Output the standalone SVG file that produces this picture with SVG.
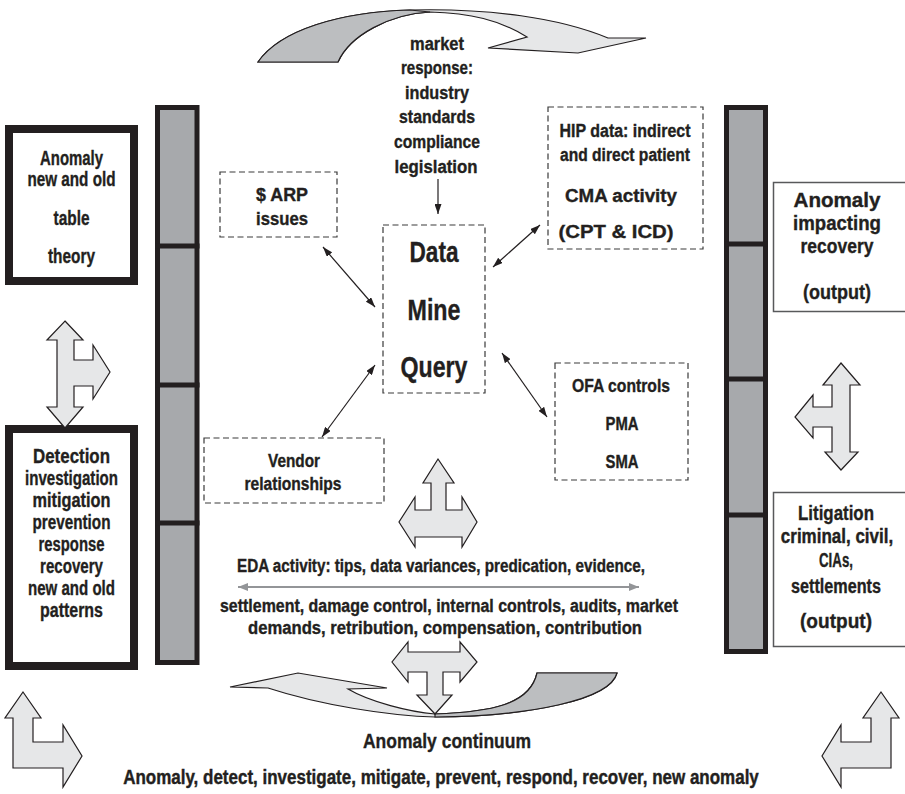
<svg xmlns="http://www.w3.org/2000/svg" width="905" height="794" viewBox="0 0 905 794">
  <defs>
    <style>
      text { font-family: "Liberation Sans", Arial, sans-serif; font-weight: bold; fill: #231f20; stroke: #231f20; stroke-width: 0.35; text-anchor: middle; }
      .t20 { font-size: 20px; }
      .t18 { font-size: 18px; }
      .t17 { font-size: 17px; }
      .t30 { font-size: 30px; }
      .t21 { font-size: 21px; }
      .dash { fill: #fff; stroke: #3a3a3a; stroke-width: 1.2; stroke-dasharray: 6 3.5; }
      .thick { fill: #fff; stroke: #231f20; stroke-width: 8; }
      .thin { fill: #fff; stroke: #58595b; stroke-width: 1.5; }
      .bar { fill: #a7a9ac; stroke: #231f20; stroke-width: 5; }
      .div { stroke: #231f20; stroke-width: 5; }
      .blk { fill: #e6e7e8; stroke: #231f20; stroke-width: 1.2; stroke-linejoin: miter; }
      .dark { fill: #bcbec0; stroke: #231f20; stroke-width: 1.2; }
      .link { stroke: #231f20; stroke-width: 1.2; fill: none; }
      .glink { stroke: #939598; stroke-width: 2; fill: none; }
    </style>
    <marker id="ah" viewBox="0 0 10 7" refX="10" refY="3.5" markerWidth="10" markerHeight="7" markerUnits="userSpaceOnUse" orient="auto-start-reverse">
      <path d="M0,0 L10,3.5 L0,7 Z" fill="#231f20"/>
    </marker>
    <marker id="gh" viewBox="0 0 10 8" refX="10" refY="4" markerWidth="10" markerHeight="8" markerUnits="userSpaceOnUse" orient="auto-start-reverse">
      <path d="M0,0 L10,4 L0,8 Z" fill="#939598"/>
    </marker>
  </defs>

  <!-- curved ribbon arrow at the top -->
  <g id="market-loop">
    <path class="blk" d="M258,62 C280,30 340,12 410,10 C490,8 560,18 608,38 L646,38 L578,53 L488,48 L527,37 C500,20 470,13 430,12 C390,14 350,35 338,62 Z"/>
    <path class="dark" d="M258,62 C280,30 340,12 410,10 L430,12 C390,14 350,35 338,62 Z"/>
  </g>

  <!-- curved ribbon arrow at the bottom -->
  <g id="continuum-loop">
    <path class="blk" d="M230,687 L298,673 L387,688 L348,689 C370,702 410,712 435,714 C490,712 530,705 537,673 L617,673 C610,700 530,716 435,717 C390,716 320,705 268,688 Z"/>
    <path class="dark" d="M435,714 C490,712 530,705 537,673 L617,673 C610,700 530,716 435,717 Z"/>
  </g>

  <!-- left segmented column -->
  <g id="left-column">
    <rect class="bar" x="157.5" y="107.5" width="39.5" height="555"/>
    <line class="div" x1="155" y1="246" x2="199.5" y2="246"/>
    <line class="div" x1="155" y1="385" x2="199.5" y2="385"/>
    <line class="div" x1="155" y1="523" x2="199.5" y2="523"/>
  </g>

  <!-- right segmented column -->
  <g id="right-column">
    <rect class="bar" x="726.5" y="107.5" width="39" height="544"/>
    <line class="div" x1="724" y1="244" x2="768" y2="244"/>
    <line class="div" x1="724" y1="379" x2="768" y2="379"/>
    <line class="div" x1="724" y1="515" x2="768" y2="515"/>
  </g>

  <g id="anomaly-theory">
    <rect class="thick" x="9" y="129" width="125" height="152"/>
    <text class="t20" x="71.5" y="165" textLength="63" lengthAdjust="spacingAndGlyphs">Anomaly</text>
    <text class="t20" x="71.5" y="186" textLength="88" lengthAdjust="spacingAndGlyphs">new and old</text>
    <text class="t20" x="71.5" y="225" textLength="36" lengthAdjust="spacingAndGlyphs">table</text>
    <text class="t20" x="71.5" y="263" textLength="47" lengthAdjust="spacingAndGlyphs">theory</text>
  </g>

  <g id="detection">
    <rect class="thick" x="9" y="429" width="125" height="237"/>
    <text class="t20" x="71.5" y="463" textLength="77" lengthAdjust="spacingAndGlyphs">Detection</text>
    <text class="t20" x="71.5" y="485" textLength="93" lengthAdjust="spacingAndGlyphs">investigation</text>
    <text class="t20" x="71.5" y="507" textLength="78" lengthAdjust="spacingAndGlyphs">mitigation</text>
    <text class="t20" x="71.5" y="529" textLength="78" lengthAdjust="spacingAndGlyphs">prevention</text>
    <text class="t20" x="71.5" y="551" textLength="66" lengthAdjust="spacingAndGlyphs">response</text>
    <text class="t20" x="71.5" y="573" textLength="63" lengthAdjust="spacingAndGlyphs">recovery</text>
    <text class="t20" x="71.5" y="595" textLength="87" lengthAdjust="spacingAndGlyphs">new and old</text>
    <text class="t20" x="71.5" y="617" textLength="63" lengthAdjust="spacingAndGlyphs">patterns</text>
  </g>

  <g id="anomaly-recovery">
    <rect class="thin" x="773.5" y="182.5" width="133" height="129"/>
    <text class="t20" x="837" y="207" textLength="87" lengthAdjust="spacingAndGlyphs">Anomaly</text>
    <text class="t20" x="837" y="230" textLength="88" lengthAdjust="spacingAndGlyphs">impacting</text>
    <text class="t20" x="837" y="253" textLength="73" lengthAdjust="spacingAndGlyphs">recovery</text>
    <text class="t20" x="837" y="299" textLength="68" lengthAdjust="spacingAndGlyphs">(output)</text>
  </g>

  <g id="litigation">
    <rect class="thin" x="773.5" y="492.5" width="133" height="154"/>
    <text class="t20" x="836" y="520" textLength="76" lengthAdjust="spacingAndGlyphs">Litigation</text>
    <text class="t17" transform="translate(837,543) scale(1,1.18)">criminal, civil,</text>
    <text class="t20" x="836" y="567" textLength="34" lengthAdjust="spacingAndGlyphs">CIAs,</text>
    <text class="t20" x="836" y="593" textLength="90" lengthAdjust="spacingAndGlyphs">settlements</text>
    <text class="t20" x="836" y="628" textLength="72" lengthAdjust="spacingAndGlyphs">(output)</text>
  </g>

  <g id="market-response">
    <text class="t18" x="437" y="50" textLength="54" lengthAdjust="spacingAndGlyphs">market</text>
    <text class="t18" x="437" y="74" textLength="72" lengthAdjust="spacingAndGlyphs">response:</text>
    <text class="t18" x="437" y="99" textLength="64" lengthAdjust="spacingAndGlyphs">industry</text>
    <text class="t18" x="437" y="123" textLength="76" lengthAdjust="spacingAndGlyphs">standards</text>
    <text class="t18" x="437" y="148" textLength="86" lengthAdjust="spacingAndGlyphs">compliance</text>
    <text class="t18" x="436" y="173" textLength="83" lengthAdjust="spacingAndGlyphs">legislation</text>
  </g>

  <g id="data-mine-query">
    <rect class="dash" x="383" y="225" width="102" height="168"/>
    <text class="t30" x="434" y="262" textLength="49" lengthAdjust="spacingAndGlyphs">Data</text>
    <text class="t30" x="434" y="320" textLength="53" lengthAdjust="spacingAndGlyphs">Mine</text>
    <text class="t30" x="434" y="377" textLength="67" lengthAdjust="spacingAndGlyphs">Query</text>
  </g>

  <g id="arp-issues">
    <rect class="dash" x="220" y="172" width="117" height="65"/>
    <text class="t18" x="282" y="201" textLength="52" lengthAdjust="spacingAndGlyphs">$ ARP</text>
    <text class="t18" x="282" y="225" textLength="52" lengthAdjust="spacingAndGlyphs">issues</text>
  </g>

  <g id="hip-data">
    <rect class="dash" x="548" y="107" width="155" height="142"/>
    <text class="t18" x="625" y="137" textLength="131" lengthAdjust="spacingAndGlyphs">HIP data: indirect</text>
    <text class="t18" x="625" y="161" textLength="130" lengthAdjust="spacingAndGlyphs">and direct patient</text>
    <text class="t18" x="621" y="202" textLength="112" lengthAdjust="spacingAndGlyphs">CMA activity</text>
    <text class="t18" x="616" y="238" textLength="115" lengthAdjust="spacingAndGlyphs">(CPT &amp; ICD)</text>
  </g>

  <g id="ofa-controls">
    <rect class="dash" x="555" y="363" width="133" height="117"/>
    <text class="t18" x="621" y="392" textLength="98" lengthAdjust="spacingAndGlyphs">OFA controls</text>
    <text class="t18" x="622" y="430" textLength="33" lengthAdjust="spacingAndGlyphs">PMA</text>
    <text class="t18" x="622" y="468" textLength="33" lengthAdjust="spacingAndGlyphs">SMA</text>
  </g>

  <g id="vendor">
    <rect class="dash" x="204" y="438" width="180" height="65"/>
    <text class="t18" x="294" y="467" textLength="52" lengthAdjust="spacingAndGlyphs">Vendor</text>
    <text class="t18" x="293" y="490" textLength="97" lengthAdjust="spacingAndGlyphs">relationships</text>
  </g>

  <g id="eda-activity">
    <text class="t18" x="441" y="572" textLength="408" lengthAdjust="spacingAndGlyphs">EDA activity: tips, data variances, predication, evidence,</text>
    <text class="t18" x="449" y="612" textLength="458" lengthAdjust="spacingAndGlyphs">settlement, damage control, internal controls, audits, market</text>
    <text class="t18" x="445" y="634" textLength="394" lengthAdjust="spacingAndGlyphs">demands, retribution, compensation, contribution</text>
  </g>

  <g id="continuum-labels">
    <text class="t21" x="447" y="748" textLength="168" lengthAdjust="spacingAndGlyphs">Anomaly continuum</text>
    <text class="t17" transform="translate(441,784) scale(1,1.24)">Anomaly, detect, investigate, mitigate, prevent, respond, recover, new anomaly</text>
  </g>

  <!-- block arrows -->
  <g id="split-left">
    <polygon class="blk" points="65,321 83,340 74,340 74,360 93,360 93,345 110,372 93,399 93,386 74,386 74,407 83,407 65,428 47,407 57,407 57,340 47,340"/>
  </g>
  <g id="split-right">
    <polygon class="blk" points="841,363 860,385 850,385 850,452 858,452 841,470 825,452 832,452 832,427 813,427 813,438 795,417 813,395 813,407 832,407 832,385 823,385"/>
  </g>
  <g id="split-center-top">
    <polygon class="blk" points="438,459 454,483 446,483 446,510 462,510 462,497 477,522 462,547 462,537 415,537 415,547 399,522 415,497 415,510 431,510 431,483 423,483"/>
  </g>
  <g id="split-center-bottom">
    <polygon class="blk" points="408,642 408,652 460,652 460,642 477,662 460,682 460,672 443,672 443,695 452,695 435,714 417,695 427,695 427,672 408,672 408,682 392,662"/>
  </g>
  <g id="corner-left">
    <polygon class="blk" points="23,692 41,718 33,718 33,742 63,742 63,725 82,756 63,787 63,768 13,768 13,718 5,718"/>
  </g>
  <g id="corner-right">
    <polygon class="blk" points="881,692 899,718 891,718 891,768 841,768 841,787 822,756 841,725 841,742 871,742 871,718 863,718"/>
  </g>

  <!-- connectors -->
  <g id="connectors">
    <line class="link" x1="438" y1="179" x2="438" y2="214" marker-end="url(#ah)"/>
    <line class="link" x1="323" y1="247" x2="375" y2="307" marker-start="url(#ah)" marker-end="url(#ah)"/>
    <line class="link" x1="540" y1="225" x2="493" y2="267" marker-start="url(#ah)" marker-end="url(#ah)"/>
    <line class="link" x1="322" y1="437" x2="375" y2="365" marker-start="url(#ah)" marker-end="url(#ah)"/>
    <line class="link" x1="502" y1="353" x2="547" y2="417" marker-start="url(#ah)" marker-end="url(#ah)"/>
    <line class="glink" x1="238" y1="587" x2="639" y2="587" marker-start="url(#gh)" marker-end="url(#gh)"/>
  </g>
</svg>
